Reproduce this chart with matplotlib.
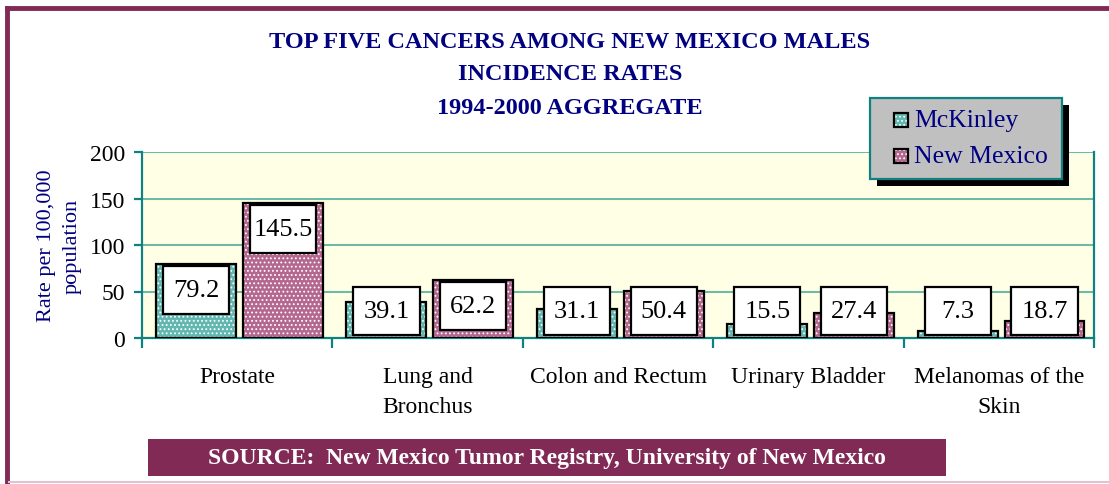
import matplotlib
matplotlib.use("Agg")
import matplotlib.pyplot as plt
from matplotlib.patches import Rectangle
from matplotlib.lines import Line2D
import numpy as np

plt.rcParams['font.family'] = ['Liberation Serif', 'DejaVu Serif']
plt.rcParams['hatch.linewidth'] = 0.8

# incidence rates per 100,000, 1994-2000
cancers = ["Prostate", "Lung and\nBronchus", "Colon and Rectum",
           "Urinary Bladder", "Melanomas of the\nSkin"]
mckinley = [79.2, 39.1, 31.1, 15.5, 7.3]
new_mexico = [145.5, 62.2, 50.4, 27.4, 18.7]
series_names = ["McKinley", "New Mexico"]

teal = "#62B8B0"
mauve = "#B4678F"
grid_teal = "#5AB4A2"
spine_teal = "#118080"
navy = "#000080"
maroon = "#822A56"

fig = plt.figure(figsize=(11.09, 4.85), dpi=100)
ax = fig.add_axes([142/1109, 1 - 339/485, (1094-142)/1109, (339-153)/485])
ax.set_facecolor("#FFFFE6")

x = np.arange(len(cancers))
w = 0.42
off = 0.228
box_w, box_h = 0.347, 51.6
for vals, dx, col in [(mckinley, -off, teal), (new_mexico, off, mauve)]:
    ax.bar(x + dx + 0.012, vals, w, color=col, edgecolor="white", hatch="....",
           linewidth=0, zorder=3)
    ax.bar(x + dx + 0.012, vals, w, fill=False, edgecolor="black",
           linewidth=1.6, zorder=4)
    for xi, v in zip(x, vals):
        xc = xi + dx + 0.012
        yc = max(v - 28, 29)
        ax.add_patch(Rectangle((xc - box_w/2, yc - box_h/2), box_w, box_h,
                               fc="white", ec="black", lw=1.6, zorder=5))
        ax.text(xc, yc, f"{v}", ha="center", va="center", fontsize=19, zorder=6)

ax.set_xlim(-0.5, 4.5)
ax.set_ylim(0, 200)
ax.set_yticks([0, 50, 100, 150, 200])
ax.yaxis.grid(True, color=grid_teal, linewidth=1.3, zorder=1)
ax.set_axisbelow(True)
for s in ["left", "bottom", "right"]:
    ax.spines[s].set_color(spine_teal)
    ax.spines[s].set_linewidth(1.6)
ax.spines["top"].set_visible(False)
ax.tick_params(axis="y", colors=spine_teal, width=1.6, length=6, labelsize=17,
               labelcolor="black", pad=6)
ax.set_xticks(np.arange(-0.5, 5, 1))
ax.tick_params(axis="x", colors=spine_teal, width=1.6, length=7, labelbottom=False)
for xi, name in zip(x, cancers):
    ax.text(xi, -30, name, ha="center", va="top", fontsize=17,
            linespacing=1.55, transform=ax.transData)
ax.set_ylabel("Rate per 100,000\npopulation", color=navy, fontsize=16,
              linespacing=1.5, labelpad=6)

# title
for txt, y in [("TOP FIVE CANCERS AMONG NEW MEXICO MALES", 43),
               ("INCIDENCE RATES", 75),
               ("1994-2000 AGGREGATE", 109)]:
    fig.text(570/1109, 1 - y/485, txt, ha="center", va="center", color=navy,
             fontsize=17.5, fontweight="bold")

# legend with drop shadow
lx0, ly0, lx1, ly1 = 870, 99, 1062, 180
fig.patches.append(Rectangle((((lx0+7)/1109), 1 - (ly1+7)/485), (lx1-lx0)/1109,
                             (ly1-ly0)/485, transform=fig.transFigure,
                             fc="black", ec="none", zorder=7))
fig.patches.append(Rectangle((lx0/1109, 1 - ly1/485), (lx1-lx0)/1109,
                             (ly1-ly0)/485, transform=fig.transFigure,
                             fc="#C0C0C0", ec=spine_teal, lw=1.6, zorder=8))
for name, col, y in [(series_names[0], teal, 121), (series_names[1], mauve, 157)]:
    fig.patches.append(Rectangle((894/1109, 1 - (y+7)/485), 14/1109, 14/485,
                                 transform=fig.transFigure, fc=col, ec="white",
                                 hatch="....", lw=0, zorder=9))
    fig.patches.append(Rectangle((894/1109, 1 - (y+7)/485), 14/1109, 14/485,
                                 transform=fig.transFigure, fill=False,
                                 ec="black", lw=1.6, zorder=10))
    fig.text(914/1109, 1 - y/485, name, ha="left", va="center", color=navy,
             fontsize=18.5, zorder=11)

# source banner
fig.patches.append(Rectangle((148/1109, 1 - 477/485), (946-148)/1109, 37/485,
                             transform=fig.transFigure, fc=maroon, ec="none"))
fig.text(547/1109, 1 - 459/485,
         "SOURCE:  New Mexico Tumor Registry, University of New Mexico",
         ha="center", va="center", color="white", fontsize=17, fontweight="bold")

# outer frame
fig.lines.append(Line2D([7/1109, 7/1109], [0, 1 - 9/485], transform=fig.transFigure,
                        color=maroon, lw=3.5))
fig.lines.append(Line2D([7/1109, 1], [1 - 9/485, 1 - 9/485], transform=fig.transFigure,
                        color=maroon, lw=3.5))
fig.lines.append(Line2D([9/1109, 1], [1 - 483/485, 1 - 483/485],
                        transform=fig.transFigure, color="#E0C2D2", lw=1.5))

fig.savefig("out.png", dpi=100)
